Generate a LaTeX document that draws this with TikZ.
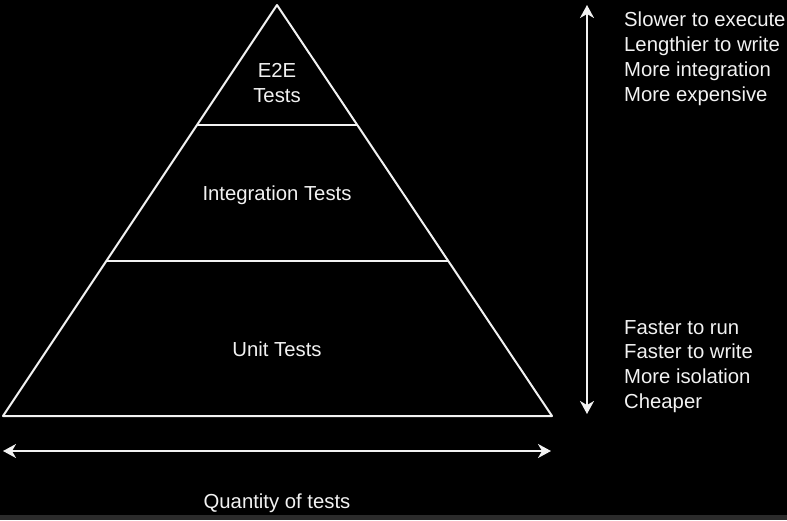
\documentclass[tikz,border=0pt]{standalone}
\usepackage{fontspec}
\setmainfont{Liberation Sans}
\usetikzlibrary{arrows.meta, positioning, calc}
\definecolor{chalk}{HTML}{F2F2F2}
\definecolor{strip}{HTML}{2B2B2B}

\begin{document}
\begin{tikzpicture}[
    x=1pt, y=-1pt,
    edge/.style={draw=chalk, line width=2pt, line join=round},
    span/.style={{Stealth[length=13pt, width=14pt, inset=4pt]}-{Stealth[length=13pt, width=14pt, inset=4pt]}, chalk, line width=1.8pt},
    label/.style={font=\fontsize{20.3}{24.7}\selectfont, text=chalk, align=center, inner sep=0pt},
    note/.style={font=\fontsize{20.3}{24.7}\selectfont, text=chalk, align=left, inner sep=0pt, anchor=north west}
  ]
  \useasboundingbox (0,0) rectangle (787,520);
  \fill[black] (0,0) rectangle (787,520);
  \fill[strip] (0,515) rectangle (787,520);

  % pyramid corners and layer edges
  \coordinate (apex) at (277,5);
  \coordinate (baseL) at (3,416);
  \coordinate (baseR) at (552,416);
  \coordinate (topL) at (197,125);
  \coordinate (topR) at (357,125);
  \coordinate (midL) at (106,261);
  \coordinate (midR) at (448,261);

  \draw[edge] (apex) -- (baseR) -- (baseL) -- cycle;
  \draw[edge] (topL) -- (topR);
  \draw[edge] (midL) -- (midR);

  \node[label] (e2e) at (277,83) {E2E\\Tests};
  \node[label] (integration) at (277,195) {Integration Tests};
  \node[label] (unit) at (277,349) {Unit Tests};

  % axes
  \coordinate (costTop) at (587,5);
  \coordinate (costBot) at (587,414);
  \coordinate (qtyL) at (3,451);
  \coordinate (qtyR) at (551,451);
  \draw[span] (costBot) -- (costTop);
  \draw[span] (qtyL) -- (qtyR);

  \node[label] (quantity) at (277,503) {Quantity of tests};

  \node[note] (slow) at (624,12) {Slower to execute\\Lengthier to write\\More integration\\More expensive};
  \node[note] (fast) at (624,320) {Faster to run\\Faster to write\\More isolation\\Cheaper};
\end{tikzpicture}
\end{document}
